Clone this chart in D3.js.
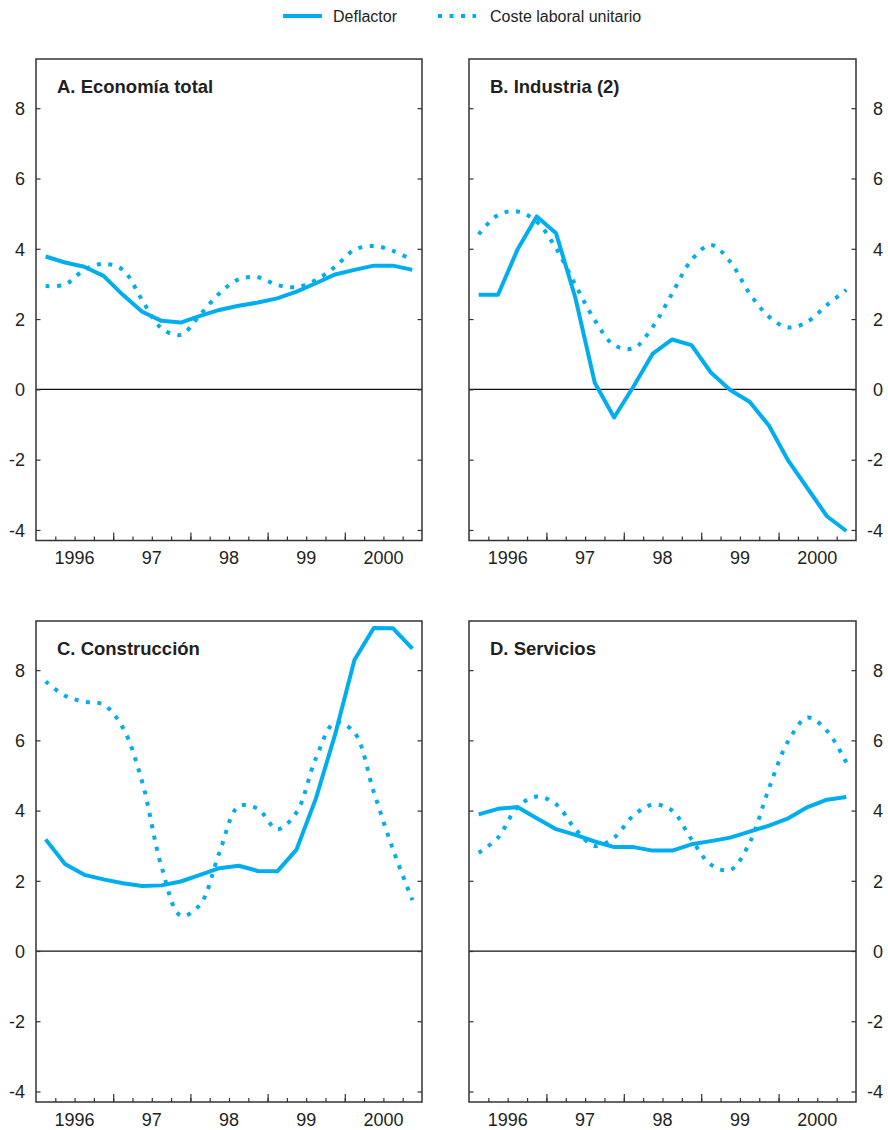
<!DOCTYPE html>
<html>
<head>
<meta charset="utf-8">
<script src="https://cdn.jsdelivr.net/npm/d3@7"></script>
<style>
  body { margin: 0; background: #fff; }
  svg { display: block; font-family: "Liberation Sans", Arial, Helvetica, sans-serif; }
</style>
</head>
<body>
<svg id="chart"></svg>
<script>
// quarterly data, 1996 T1 .. 2000 T4
const quarters = d3.range(1996, 2001).flatMap(y => [1, 2, 3, 4].map(q => `${y}T${q}`));
const years = ["1996", "97", "98", "99", "2000"];
const yTicks = [-4, -2, 0, 2, 4, 6, 8];
const seriesNames = ["Deflactor", "Coste laboral unitario"];
const panelTitles = ["A. Economía total", "B. Industria (2)", "C. Construcción", "D. Servicios"];

const deflactorA = [3.78, 3.61, 3.49, 3.23, 2.69, 2.21, 1.95, 1.90, 2.09, 2.26, 2.38, 2.47, 2.59, 2.78, 3.02, 3.27, 3.40, 3.52, 3.52, 3.40];
const costeA     = [2.94, 2.98, 3.40, 3.57, 3.40, 2.54, 1.74, 1.55, 2.12, 2.73, 3.13, 3.19, 2.97, 2.91, 3.11, 3.49, 3.97, 4.08, 3.94, 3.68];

const deflactorB = [2.69, 2.69, 3.97, 4.92, 4.44, 2.60, 0.19, -0.80, 0.08, 1.02, 1.42, 1.26, 0.48, -0.02, -0.35, -1.03, -2.03, -2.82, -3.61, -4.03];
const costeB     = [4.41, 4.96, 5.06, 4.77, 4.01, 2.97, 1.97, 1.26, 1.17, 1.78, 2.73, 3.68, 4.11, 3.63, 2.73, 2.07, 1.76, 1.93, 2.40, 2.83];

const deflactorC = [3.18, 2.48, 2.17, 2.04, 1.93, 1.85, 1.87, 1.98, 2.17, 2.36, 2.43, 2.28, 2.27, 2.89, 4.34, 6.17, 8.29, 9.20, 9.19, 8.61];
const costeC     = [7.68, 7.27, 7.10, 7.02, 6.36, 4.82, 2.41, 1.01, 1.32, 2.80, 4.12, 4.05, 3.47, 3.95, 5.49, 6.51, 6.22, 4.53, 2.89, 1.45];

const deflactorD = [3.89, 4.05, 4.10, 3.78, 3.47, 3.31, 3.12, 2.96, 2.96, 2.86, 2.86, 3.04, 3.13, 3.23, 3.40, 3.57, 3.78, 4.10, 4.31, 4.39];
const costeD     = [2.80, 3.23, 4.10, 4.40, 4.18, 3.47, 2.99, 3.23, 3.86, 4.17, 4.00, 3.18, 2.46, 2.31, 3.08, 4.63, 5.98, 6.65, 6.27, 5.37];

const width = 888, height = 1130;
const color = "#00aeef";
const ink = "#231f20";
const fontSize = 18;

const cols = [{ left: 36, right: 422 }, { left: 469, right: 856 }];
const rows = [{ top: 59, bottom: 540.5 }, { top: 621, bottom: 1102 }];

const panels = [
  { title: panelTitles[0], defl: deflactorA, coste: costeA, col: 0, row: 0 },
  { title: panelTitles[1], defl: deflactorB, coste: costeB, col: 1, row: 0 },
  { title: panelTitles[2], defl: deflactorC, coste: costeC, col: 0, row: 1 },
  { title: panelTitles[3], defl: deflactorD, coste: costeD, col: 1, row: 1 }
];

const svg = d3.select("#chart")
    .attr("width", width)
    .attr("height", height)
    .attr("viewBox", [0, 0, width, height]);

// legend
const legend = svg.append("g").attr("transform", "translate(283,16)");
legend.append("line")
    .attr("x1", 0).attr("x2", 39)
    .attr("stroke", color).attr("stroke-width", 4);
legend.append("text")
    .attr("x", 50).attr("y", 5.5)
    .attr("fill", ink).style("font-size", "16px")
    .text(seriesNames[0]);
legend.append("line")
    .attr("x1", 155).attr("x2", 193)
    .attr("stroke", color).attr("stroke-width", 4)
    .attr("stroke-dasharray", "4 7.5");
legend.append("text")
    .attr("x", 207).attr("y", 5.5)
    .attr("fill", ink).style("font-size", "16px")
    .text(seriesNames[1]);

const yFormat = d => String(d); // plain hyphen for negatives, as in the original

panels.forEach(p => {
  const { left, right } = cols[p.col];
  const { top, bottom } = rows[p.row];
  const isRight = p.col === 1;

  const x = d3.scaleBand(quarters, [left, right]).padding(0);
  const xq = d3.scaleLinear([0, quarters.length], [left, right]);
  const xYear = d3.scaleBand(years, [left, right]).padding(0);
  const y = d3.scaleLinear([-4.3, 9.4], [bottom, top]);

  const g = svg.append("g");

  // zero line
  g.append("line")
      .attr("x1", left).attr("x2", right)
      .attr("y1", y(0)).attr("y2", y(0))
      .attr("stroke", "#111").attr("stroke-width", 1.2);

  // y axes (ticks inward on both sides)
  const yl = g.append("g")
      .attr("transform", `translate(${left},0)`)
      .call(d3.axisLeft(y).tickValues(yTicks).tickSize(-4.5).tickPadding(11).tickFormat(yFormat));
  const yr = g.append("g")
      .attr("transform", `translate(${right},0)`)
      .call(d3.axisRight(y).tickValues(yTicks).tickSize(-4.5).tickPadding(11).tickFormat(yFormat));
  [yl, yr].forEach(a => {
    a.select(".domain").remove();
    a.selectAll(".tick line").attr("stroke", "#333").attr("stroke-width", 1.2);
    a.selectAll("text").attr("fill", ink).style("font-size", fontSize + "px");
  });
  if (isRight) {
    yl.selectAll("text").remove();
    yr.selectAll("text").attr("text-anchor", "end").attr("x", 27).attr("dy", "0.35em");
  } else {
    yr.selectAll("text").remove();
    yl.selectAll("text").attr("dy", "0.35em");
  }

  // x axis: quarter ticks (minor) and year ticks (major), pointing up
  const xMinor = g.append("g")
      .attr("transform", `translate(0,${bottom})`)
      .call(d3.axisBottom(xq).tickValues(d3.range(1, quarters.length)).tickSize(-4).tickFormat(""));
  const xMajor = g.append("g")
      .attr("transform", `translate(0,${bottom})`)
      .call(d3.axisBottom(xq).tickValues(d3.range(4, quarters.length, 4)).tickSize(-8).tickFormat(""));
  [xMinor, xMajor].forEach(a => {
    a.select(".domain").remove();
    a.selectAll(".tick line").attr("stroke", "#333").attr("stroke-width", 1.2);
  });

  const xLab = g.append("g")
      .attr("transform", `translate(0,${bottom})`)
      .call(d3.axisBottom(xYear).tickSize(0).tickPadding(11));
  xLab.select(".domain").remove();
  xLab.selectAll("text").attr("fill", ink).style("font-size", fontSize + "px");

  // frame
  g.append("rect")
      .attr("x", left).attr("y", top)
      .attr("width", right - left).attr("height", bottom - top)
      .attr("fill", "none").attr("stroke", "#333").attr("stroke-width", 1.5);

  // series
  const cx = (d, i) => x(quarters[i]) + x.bandwidth() / 2;
  g.append("path")
      .datum(p.coste)
      .attr("fill", "none")
      .attr("stroke", color)
      .attr("stroke-width", 4)
      .attr("stroke-dasharray", "4 7.5")
      .attr("d", d3.line().x(cx).y(d => y(d)).curve(d3.curveCatmullRom.alpha(0.5)));
  g.append("path")
      .datum(p.defl)
      .attr("fill", "none")
      .attr("stroke", color)
      .attr("stroke-width", 4)
      .attr("stroke-linejoin", "round")
      .attr("d", d3.line().x(cx).y(d => y(d)));

  // title
  g.append("text")
      .attr("x", left + 21)
      .attr("y", top + 34)
      .attr("fill", ink)
      .style("font-size", "18.5px")
      .style("font-weight", "bold")
      .text(p.title);
});
</script>
</body>
</html>
